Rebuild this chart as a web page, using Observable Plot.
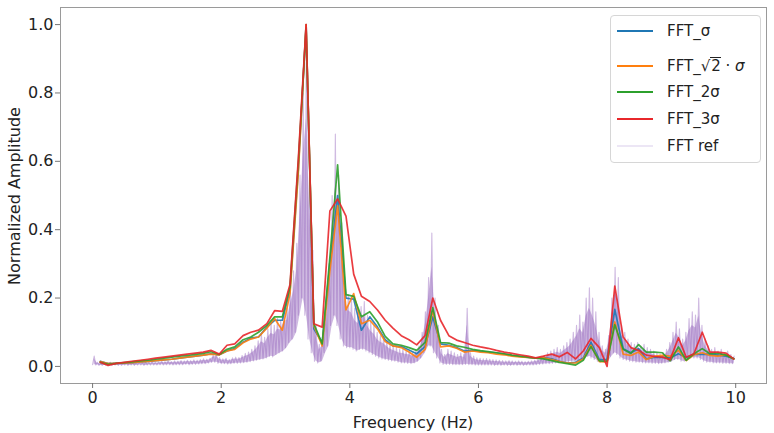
<!DOCTYPE html>
<html><head><meta charset="utf-8">
<script src="https://cdn.jsdelivr.net/npm/d3@7"></script>
<script src="https://cdn.jsdelivr.net/npm/@observablehq/plot@0.6"></script>
<style>
body{margin:0;background:#fff;font-family:"DejaVu Sans",sans-serif;}
#wrap{position:relative;width:774px;height:433px;}
#legend{position:absolute;left:610px;top:15px;width:151px;height:148px;box-sizing:border-box;border:1px solid #d6d6d6;border-radius:4px;background:rgba(255,255,255,0.9);font-size:15px;color:#222;}
.row{position:absolute;left:0;height:22px;width:148px;}
.sw{position:absolute;left:6px;top:10px;width:36px;height:2px;}
.lab{position:absolute;left:56px;top:1px;white-space:nowrap;line-height:20px;}
.rad{display:inline-block;border-top:1px solid #222;line-height:16px;padding-left:1px;}
</style></head>
<body>
<div id="wrap">
<div id="chart"></div>
<div id="legend"></div>
</div>
<script>
// bin frequencies (Hz) of the four smoothed spectra
const freq = [0.12,0.24,0.37,0.49,0.61,0.74,0.86,0.98,1.11,1.23,
1.35,1.47,1.6,1.72,1.84,1.97,2.09,2.21,2.34,2.46,
2.58,2.71,2.83,2.95,3.07,3.2,3.32,3.44,3.57,3.69,
3.81,3.94,4.06,4.18,4.31,4.43,4.55,4.67,4.8,4.92,
5.04,5.17,5.29,5.41,5.54,5.66,5.78,5.91,6.03,6.15,
6.28,6.4,6.52,6.64,6.77,6.89,7.01,7.14,7.26,7.38,
7.51,7.63,7.75,7.88,8.0,8.12,8.25,8.37,8.49,8.61,
8.74,8.86,8.98,9.11,9.23,9.35,9.48,9.6,9.72,9.85,
9.97];

const fftSigma = [0.015,0.008,0.009,0.010,0.011,0.013,0.015,0.017,0.019,0.021,
0.024,0.027,0.030,0.033,0.037,0.034,0.045,0.052,0.071,0.083,
0.086,0.115,0.135,0.135,0.223,0.580,1.000,0.110,0.070,0.300,
0.500,0.200,0.197,0.106,0.145,0.115,0.078,0.060,0.058,0.048,
0.037,0.058,0.145,0.066,0.062,0.055,0.045,0.047,0.044,0.042,
0.040,0.036,0.032,0.029,0.026,0.024,0.026,0.022,0.015,0.010,
0.012,0.025,0.071,0.020,0.020,0.167,0.052,0.040,0.052,0.022,
0.027,0.026,0.025,0.037,0.026,0.035,0.035,0.036,0.033,0.030,
0.023];

const fftSqrt2Sigma = [0.014,0.008,0.009,0.010,0.011,0.013,0.015,0.017,0.019,0.021,
0.024,0.027,0.030,0.033,0.036,0.034,0.045,0.050,0.069,0.080,
0.086,0.112,0.140,0.106,0.213,0.570,1.000,0.120,0.060,0.280,
0.470,0.165,0.213,0.125,0.135,0.110,0.073,0.060,0.055,0.042,
0.027,0.050,0.165,0.057,0.060,0.053,0.042,0.045,0.042,0.040,
0.036,0.034,0.030,0.028,0.026,0.024,0.025,0.020,0.014,0.010,
0.010,0.022,0.062,0.014,0.013,0.130,0.036,0.032,0.042,0.020,
0.030,0.032,0.030,0.047,0.017,0.034,0.040,0.032,0.030,0.034,
0.022];

const fft2Sigma = [0.012,0.006,0.009,0.011,0.013,0.016,0.018,0.021,0.024,0.027,
0.030,0.032,0.035,0.038,0.043,0.035,0.050,0.057,0.078,0.086,
0.100,0.120,0.145,0.145,0.233,0.600,0.990,0.125,0.066,0.320,
0.590,0.210,0.205,0.145,0.160,0.130,0.088,0.066,0.062,0.055,
0.047,0.070,0.172,0.070,0.068,0.060,0.056,0.050,0.046,0.043,
0.040,0.037,0.033,0.030,0.027,0.024,0.022,0.017,0.012,0.008,
0.004,0.018,0.058,0.016,0.015,0.122,0.050,0.038,0.064,0.042,
0.042,0.040,0.016,0.057,0.018,0.037,0.052,0.037,0.039,0.033,
0.022];

const fft3Sigma = [0.012,0.003,0.009,0.012,0.015,0.018,0.021,0.024,0.027,0.030,
0.033,0.036,0.039,0.042,0.047,0.036,0.062,0.066,0.090,0.100,
0.106,0.125,0.163,0.161,0.240,0.610,1.000,0.125,0.115,0.455,
0.490,0.440,0.270,0.205,0.190,0.165,0.135,0.112,0.090,0.078,
0.063,0.090,0.200,0.135,0.090,0.077,0.070,0.062,0.057,0.053,
0.047,0.042,0.038,0.034,0.030,0.025,0.030,0.036,0.028,0.041,
0.022,0.045,0.082,0.055,0.000,0.235,0.086,0.055,0.047,0.033,
0.029,0.027,0.020,0.084,0.027,0.037,0.100,0.042,0.042,0.039,
0.022];

// reference FFT: per 0.05 Hz bin, the upper and lower envelope of the dense trace
const refStep = 0.05;
const refHi = [0.030,0.012,0.010,0.011,0.010,0.012,0.010,0.011,0.012,0.010,
0.011,0.012,0.011,0.013,0.012,0.011,0.013,0.012,0.014,0.012,
0.013,0.015,0.014,0.016,0.014,0.016,0.015,0.017,0.016,0.018,
0.017,0.019,0.018,0.020,0.022,0.021,0.024,0.034,0.036,0.026,
0.022,0.024,0.020,0.025,0.027,0.026,0.032,0.038,0.042,0.050,
0.060,0.075,0.095,0.085,0.110,0.125,0.120,0.140,0.135,0.165,
0.170,0.230,0.280,0.360,0.560,0.800,0.970,0.620,0.340,0.120,
0.065,0.080,0.160,0.300,0.500,0.680,0.560,0.420,0.250,0.210,
0.200,0.170,0.160,0.175,0.190,0.150,0.130,0.120,0.100,0.090,
0.085,0.075,0.065,0.060,0.055,0.050,0.050,0.045,0.045,0.040,
0.045,0.060,0.100,0.160,0.260,0.390,0.200,0.120,0.050,0.035,
0.050,0.045,0.040,0.035,0.040,0.035,0.170,0.040,0.030,0.025,
0.024,0.022,0.023,0.021,0.020,0.019,0.018,0.017,0.016,0.017,
0.016,0.015,0.016,0.015,0.014,0.015,0.016,0.018,0.020,0.025,
0.030,0.040,0.045,0.050,0.055,0.050,0.060,0.070,0.080,0.100,
0.120,0.150,0.130,0.200,0.230,0.200,0.160,0.100,0.060,0.050,
0.090,0.200,0.290,0.260,0.120,0.100,0.080,0.070,0.065,0.070,
0.060,0.065,0.055,0.050,0.045,0.040,0.035,0.040,0.050,0.070,
0.100,0.130,0.110,0.080,0.100,0.140,0.160,0.150,0.200,0.120,
0.080,0.060,0.050,0.055,0.045,0.050,0.040,0.045,0.035,0.030];
const refLo = [0.005,0.004,0.003,0.003,0.004,0.003,0.003,0.004,0.003,0.003,
0.004,0.003,0.004,0.003,0.004,0.004,0.003,0.004,0.004,0.004,
0.004,0.005,0.004,0.005,0.005,0.004,0.005,0.005,0.005,0.006,
0.005,0.006,0.006,0.007,0.008,0.008,0.010,0.012,0.012,0.009,
0.008,0.008,0.007,0.008,0.009,0.009,0.010,0.011,0.012,0.014,
0.016,0.018,0.020,0.022,0.025,0.030,0.028,0.035,0.040,0.045,
0.055,0.070,0.080,0.100,0.150,0.200,0.150,0.080,0.040,0.015,
0.010,0.015,0.040,0.060,0.120,0.150,0.120,0.080,0.060,0.055,
0.055,0.050,0.045,0.050,0.050,0.045,0.040,0.035,0.030,0.025,
0.022,0.020,0.018,0.016,0.015,0.012,0.010,0.010,0.009,0.008,
0.010,0.015,0.025,0.040,0.060,0.060,0.040,0.025,0.010,0.006,
0.006,0.006,0.005,0.005,0.005,0.005,0.006,0.005,0.005,0.004,
0.004,0.004,0.004,0.004,0.004,0.003,0.004,0.003,0.004,0.003,
0.003,0.004,0.003,0.004,0.003,0.004,0.004,0.004,0.005,0.006,
0.007,0.008,0.008,0.009,0.010,0.010,0.012,0.012,0.014,0.015,
0.015,0.018,0.020,0.025,0.030,0.025,0.020,0.015,0.012,0.012,
0.015,0.030,0.040,0.035,0.025,0.020,0.018,0.015,0.014,0.012,
0.012,0.011,0.010,0.010,0.009,0.009,0.008,0.009,0.010,0.012,
0.015,0.020,0.020,0.015,0.015,0.020,0.025,0.025,0.025,0.020,
0.015,0.012,0.012,0.010,0.010,0.010,0.009,0.009,0.008,0.008];

const xTicks = [0, 2, 4, 6, 8, 10];
const yTicks = [0.0, 0.2, 0.4, 0.6, 0.8, 1.0];

const seriesNames = ["FFT_σ", "FFT_√2·σ", "FFT_2σ", "FFT_3σ"];
const seriesValues = [fftSigma, fftSqrt2Sigma, fft2Sigma, fft3Sigma];
const seriesColors = ["#1f77b4", "#ff7f0e", "#2ca02c", "#e8272b"];
const refColor = "#9467bd";

const lineData = [];
seriesValues.forEach((vals, s) => vals.forEach((v, i) => lineData.push({f: freq[i], v, s: seriesNames[s]})));

const refData = [];
const refBand = [];
refHi.forEach((hi, i) => {
  refData.push({f: i * refStep, v: refLo[i]});
  refData.push({f: i * refStep + refStep / 2, v: hi});
  refBand.push({f: i * refStep + refStep / 2, lo: refLo[i], hi: refLo[i] + 0.7 * (hi - refLo[i])});
});

const plot = Plot.plot({
  width: 774, height: 433,
  marginLeft: 60, marginRight: 8, marginTop: 7, marginBottom: 50,
  style: {fontFamily: "DejaVu Sans", fontSize: "16px", color: "#222", background: "#fff", overflow: "visible"},
  x: {domain: [-0.499, 10.479], label: null},
  y: {domain: [-0.05, 1.05], label: null},
  marks: [
    Plot.areaY(refBand, {x: "f", y1: "lo", y2: "hi", fill: refColor, fillOpacity: 0.45}),
    Plot.line(refData, {x: "f", y: "v", stroke: refColor, strokeOpacity: 0.45, strokeWidth: 1.1}),
    ...seriesNames.map((n, s) => Plot.line(lineData.filter(d => d.s === n), {x: "f", y: "v", stroke: seriesColors[s], strokeWidth: 1.7, strokeOpacity: 0.9})),
    Plot.frame({stroke: "#9a9a9a"}),
    Plot.axisX({ticks: xTicks, tickSize: 5, tickPadding: 3, tickFormat: d => String(d), stroke: "#777", label: null}),
    Plot.axisY({ticks: yTicks, tickSize: 5, tickPadding: 2, tickFormat: d3.format(".1f"), stroke: "#777", label: null})
  ]
});
document.getElementById("chart").appendChild(plot);

const svg = d3.select(plot);
svg.append("text").attr("x", 413).attr("y", 423).attr("text-anchor", "middle").attr("dominant-baseline", "middle")
  .attr("font-size", 16).attr("fill", "#222").text("Frequency (Hz)");
svg.append("text").attr("transform", "translate(15,196) rotate(-90)").attr("text-anchor", "middle").attr("dominant-baseline", "middle")
  .attr("font-size", 16).attr("fill", "#222").text("Normalized Amplitude");

// legend
const legendRows = [
  {html: "FFT_σ", color: seriesColors[0], top: 4},
  {html: 'FFT_<span style="font-size:15px">√<span class="rad">2</span></span> · <i>σ</i>', color: seriesColors[1], top: 39},
  {html: "FFT_2σ", color: seriesColors[2], top: 65},
  {html: "FFT_3σ", color: seriesColors[3], top: 92},
  {html: "FFT ref", color: "#ece6f5", top: 119}
];
const leg = document.getElementById("legend");
legendRows.forEach(r => {
  const row = document.createElement("div");
  row.className = "row";
  row.style.top = r.top + "px";
  row.innerHTML = `<span class="sw" style="background:${r.color}"></span><span class="lab">${r.html}</span>`;
  leg.appendChild(row);
});
</script>
</body></html>
